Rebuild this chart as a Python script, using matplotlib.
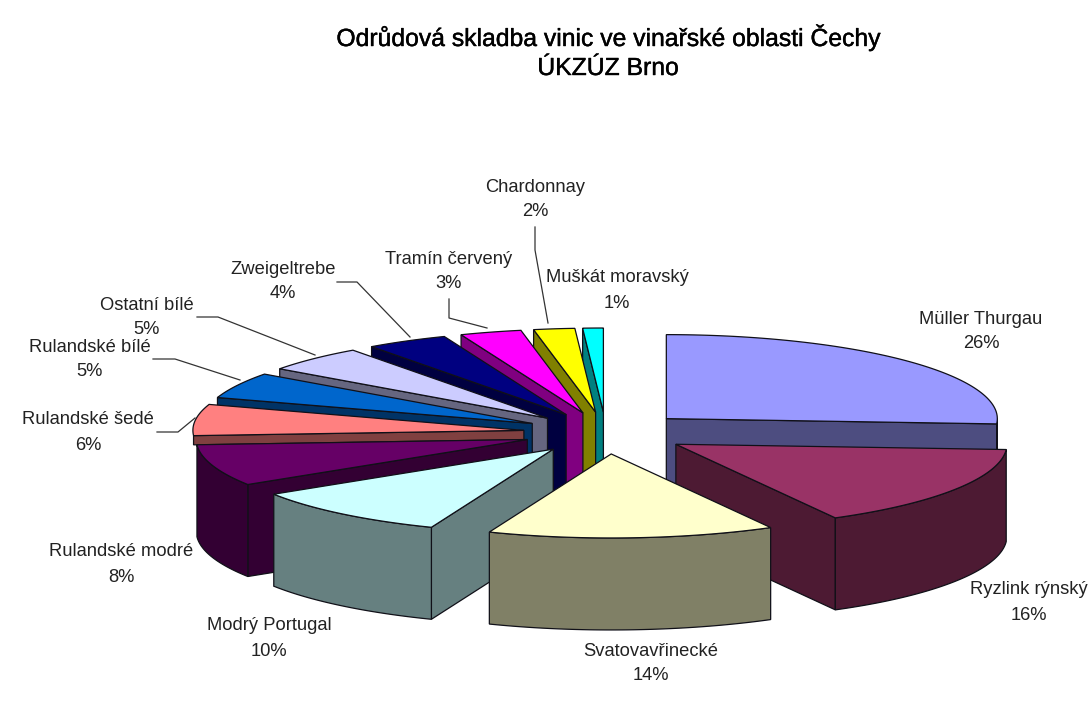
import matplotlib
matplotlib.use('Agg')
import matplotlib.pyplot as plt
import matplotlib.patheffects as pe
import numpy as np

plt.rcParams['font.family'] = ['Liberation Sans', 'DejaVu Sans']

odrudy = ['Müller Thurgau', 'Ryzlink rýnský', 'Svatovavřinecké', 'Modrý Portugal',
          'Rulandské modré', 'Rulandské šedé', 'Rulandské bílé', 'Ostatní bílé',
          'Zweigeltrebe', 'Tramín červený', 'Chardonnay', 'Muškát moravský']
podil = [26, 16, 14, 10, 8, 6, 5, 5, 4, 3, 2, 1]
barvy_top = ['#9999FF', '#993366', '#FFFFCC', '#CCFFFF', '#660066', '#FF8080',
             '#0066CC', '#CCCCFF', '#000080', '#FF00FF', '#FFFF00', '#00FFFF']
barvy_side = ['#4D4D80', '#4D1A33', '#808066', '#668080', '#330033', '#804040',
              '#003366', '#666680', '#000040', '#800080', '#808000', '#008080']

# label centres in pixels
popisky_xy = [(981, 319), (1029, 590), (651, 651), (269, 626), (121, 552), (88, 420),
              (90, 347), (147, 305), (283, 269), (449, 259), (535, 187), (617, 278)]

# leader lines
vodici = [
    [(157, 432), (178, 432), (195, 418)],
    [(153, 359), (175, 359), (240, 380)],
    [(197, 317), (218, 317), (315, 355)],
    [(337, 282), (357, 282), (410, 337)],
    [(449, 299), (449, 318), (487, 328)],
    [(535, 227), (535, 250), (548, 323)],
]

# pie geometry (orthographic view)
cx, cy = 606, 433
rx, ry = 331, 84
hloubka = 92
explode = 0.25
hrana = '#101018'


def bod(theta, r, ox, oy):
    return ox + rx * r * np.sin(theta), oy - ry * r * np.cos(theta)


fig = plt.figure(figsize=(10.92, 7.02), dpi=100)
ax = fig.add_axes([0, 0, 1, 1])
ax.set_xlim(0, 1092)
ax.set_ylim(702, 0)
ax.axis('off')

uhly = np.cumsum([0] + podil) / sum(podil) * 2 * np.pi
stredy = (uhly[:-1] + uhly[1:]) / 2

# back slices first
poradi = np.argsort(-np.cos(stredy))

for z, i in enumerate(poradi):
    t1, t2, tm = uhly[i], uhly[i + 1], stredy[i]
    ox, oy = bod(tm, explode, cx, cy)
    oblouk = np.linspace(t1, t2, 80)
    ox_x, ox_y = bod(oblouk, 1, ox, oy)

    # left slice that only just crosses the side of the pie: the neighbour hides most of it
    predni = np.cos(oblouk) < 0
    sliver = np.sin(tm) < 0 and predni.any() and predni.mean() <= 0.25
    vyska = hloubka * 0.1 if sliver else hloubka

    # radial walls, only when they face the viewer
    for t, normala in [(t1, t1 - np.pi / 2), (t2, t2 + np.pi / 2)]:
        if np.cos(normala) < 0:
            ex, ey = bod(t, 1, ox, oy)
            ax.fill([ox, ex, ex, ox], [oy, ey, ey + vyska, oy + vyska],
                    fc=barvy_side[i], ec=hrana, lw=0.9, zorder=2 + z)

    # outer rim, front half only
    if predni.any() and not sliver:
        xs, ys = ox_x[predni], ox_y[predni]
        ax.fill(np.r_[xs, xs[::-1]], np.r_[ys, ys[::-1] + hloubka],
                fc=barvy_side[i], ec=hrana, lw=0.9, zorder=2 + z)

    ax.fill(np.r_[ox, ox_x], np.r_[oy, ox_y], fc=barvy_top[i], ec=hrana, lw=0.9, zorder=2 + z)

for v in vodici:
    xs, ys = zip(*v)
    ax.plot(xs, ys, color='#333333', lw=0.9, zorder=1)

for jmeno, p, (x, y) in zip(odrudy, podil, popisky_xy):
    ax.text(x, y, jmeno, ha='center', va='center', fontsize=13.2, color='#222222', zorder=30)
    ax.text(x, y + 25, f'{p}%', ha='center', va='center', fontsize=13.2, color='#222222', zorder=30)

tucne = [pe.withStroke(linewidth=0.3, foreground='black')]
ax.text(608, 37, 'Odrůdová skladba vinic ve vinařské oblasti Čechy', ha='center', va='center',
        fontsize=17.8, color='black', path_effects=tucne)
ax.text(608, 68, 'ÚKZÚZ Brno', ha='center', va='center', fontsize=17.8, color='black', path_effects=tucne)

fig.savefig('out.png', dpi=100)
